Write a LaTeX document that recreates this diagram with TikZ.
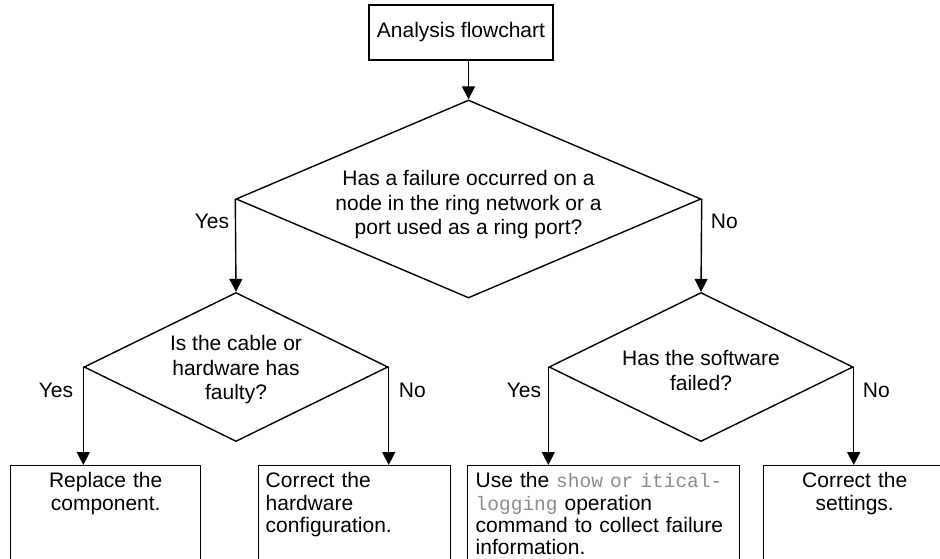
\documentclass[tikz,border=0pt]{standalone}
\usepackage{fontspec}
\setmainfont{Liberation Sans}
\setmonofont{Liberation Mono}
\usepackage{tikz}
\usetikzlibrary{shapes.geometric, arrows.meta}
\usetikzlibrary{positioning}
\tikzstyle{decision} = [diamond, draw=black, line width=1.4pt, inner sep=0pt]
\tikzstyle{arrow} = [line width=1.4pt,-{Triangle[length=13pt,width=13pt]}]
\newcommand{\cmdtext}[1]{{\fontsize{19.5}{22}\ttfamily\color{black!45}#1}}

\begin{document}
\begin{tikzpicture}[x=1pt, y=-1pt,
every node/.style={font=\fontsize{21}{24.5}\selectfont},
startbox/.style={rectangle, draw=black, line width=1.4pt, minimum width=184pt, minimum height=55pt},
actionbox/.style={rectangle, draw=black, line width=1.4pt, anchor=north west, inner xsep=7pt, inner ysep=7pt,
  text height=15pt, text depth=95pt, font=\fontsize{21}{22.3}\selectfont},
qtext/.style={align=center, inner sep=0pt},
answer/.style={inner sep=0pt},
]
\useasboundingbox (0,0) rectangle (940,558);
\clip (0,0) rectangle (940,558);

%Nodes
\node[startbox]   (start)  at (461,32.5)  {Analysis flowchart};
\node[decision, minimum width=465pt, minimum height=198pt] (ring) at (468.5,199) {};
\node[qtext]      (ringtext) at ([yshift=-6pt]ring.center) {Has a failure occurred on a\\node in the ring network or a\\port used as a ring port?};
\node[decision, minimum width=304pt, minimum height=149pt] (cable) at (236,367) {};
\node[qtext]      (cabletext) at ([yshift=-3pt]cable.center) {Is the cable or\\hardware has\\faulty?};
\node[decision, minimum width=304pt, minimum height=149pt] (soft) at (701,367) {};
\node[qtext]      (softtext) at ([yshift=-3.5pt]soft.center) {Has the software\\failed?};

\node[actionbox, text width=176pt, align=center] (replace)  at (10,465)  {Replace the\\component.};
\node[actionbox, text width=178pt, align=left]   (hwconf)   at (258,465) {Correct the\\hardware\\configuration.};
\node[actionbox, text width=256pt, align=left, inner xsep=8pt] (collect) at (467,465)
  {Use the \cmdtext{show or itical-}\\\cmdtext{logging} operation\\command to collect failure\\information.};
\node[actionbox, text width=168pt, align=center] (settings) at (763,465) {Correct the\\settings.};

%Labels
\node[answer, anchor=east] (ringyes) at ([shift={(-6pt,-22pt)}]ring.west) {Yes};
\node[answer, anchor=west] (ringno)  at ([shift={(9pt,-22pt)}]ring.east) {No};
\node[answer, anchor=east] (cableyes) at ([shift={(-10pt,-23pt)}]cable.west) {Yes};
\node[answer, anchor=west] (cableno)  at ([shift={(10pt,-23pt)}]cable.east) {No};
\node[answer, anchor=east] (softyes) at ([shift={(-7pt,-23pt)}]soft.west) {Yes};
\node[answer, anchor=west] (softno)  at ([shift={(9pt,-23pt)}]soft.east) {No};

%Lines
\draw[arrow] (start.south -| ring.north) -- (ring.north);
\draw[arrow] (ring.west) -- (cable.north);
\draw[arrow] (ring.east) -- (soft.north);
\draw[arrow] (cable.west) -- (cable.west |- replace.north);
\draw[arrow] (cable.east) -- (cable.east |- hwconf.north);
\draw[arrow] (soft.west) -- (soft.west |- collect.north);
\draw[arrow] (soft.east) -- (soft.east |- settings.north);

\end{tikzpicture}
\end{document}
